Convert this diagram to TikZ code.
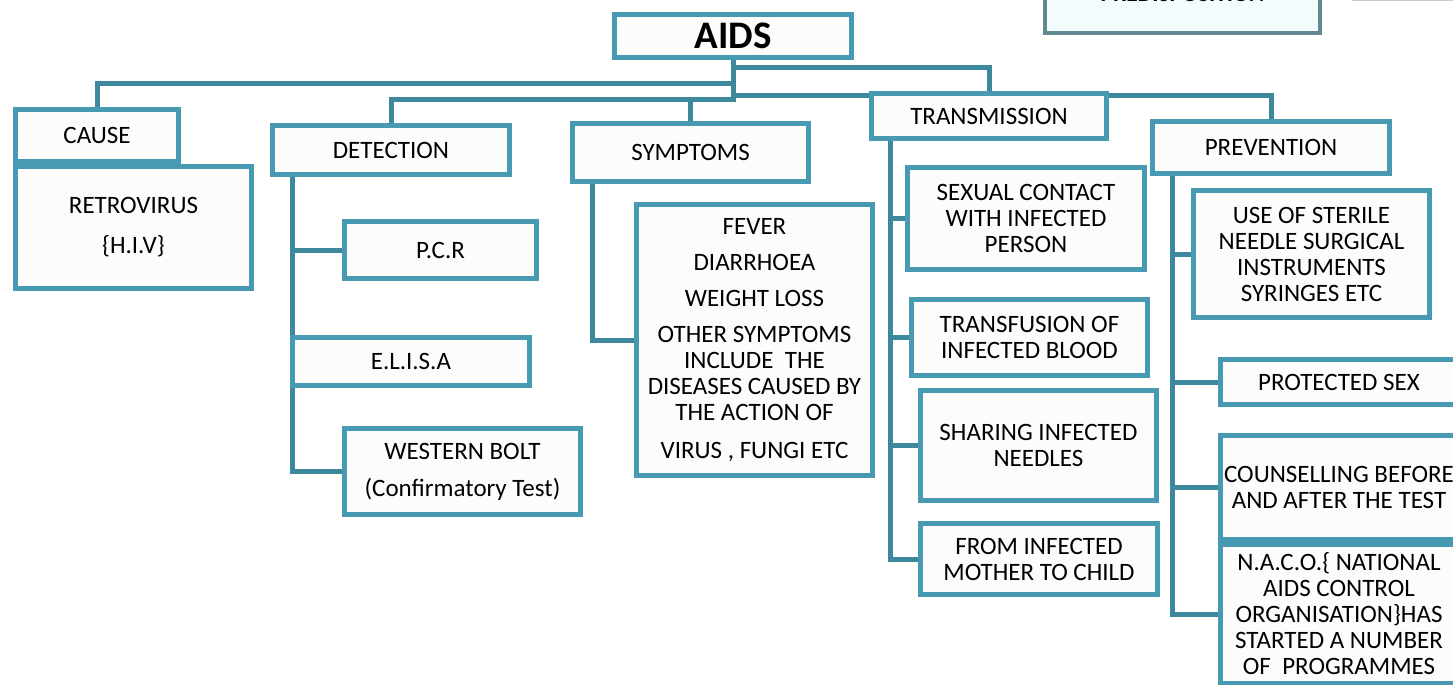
\documentclass[tikz,border=0pt]{standalone}
\usepackage{fontspec}
\setmainfont{Carlito}
\usepackage{tikz}
\definecolor{boxline}{RGB}{72,154,178}
\definecolor{connline}{RGB}{62,136,158}
\definecolor{boxfill}{RGB}{252,252,252}
\definecolor{predline}{RGB}{98,136,146}
\definecolor{predfill}{RGB}{244,251,252}
\definecolor{edgegrey}{RGB}{200,204,208}
\pgfdeclarelayer{background}
\pgfsetlayers{background,main}
\tikzset{
  box/.style={draw=boxline, line width=2.5pt, fill=boxfill, align=center, inner sep=0pt,
    font=\fontsize{12.5}{13}\selectfont},
  conn/.style={draw=connline, line width=2.5pt, line cap=rect},
}

\begin{document}
\begin{tikzpicture}[x=0.5pt,y=-0.5pt]
\useasboundingbox (0,0) rectangle (1453,685);
\clip (0,0) rectangle (1453,685);
\node[draw=predline, line width=2.2pt, fill=predfill, minimum width=137.5pt, minimum height=38.5pt,
  font=\fontsize{11.7}{13}\selectfont\bfseries, anchor=south] (predisp) at (1182.5,35) {PREDISPOSITION};
\node[draw=edgegrey, line width=1.5pt, fill=white, minimum width=60pt, minimum height=20pt,
  anchor=south west] (corner) at (1352,1) {};

\node[box, font=\fontsize{19.5}{22}\selectfont\bfseries, minimum width=118.5pt, minimum height=21.5pt] (aids) at (733,36) {AIDS};
\node[box, minimum width=118pt, minimum height=61pt] (retro) at (133.5,227.5) {RETROVIRUS\\[7pt]\{H.I.V\}};
\node[box, minimum width=81.5pt, minimum height=26pt] (cause) at (97,135.5) {CAUSE};
\node[box, minimum width=118.5pt, minimum height=24.5pt] (det) at (391,150) {DETECTION};
\node[box, minimum width=96pt, minimum height=28.5pt] (pcr) at (440.5,250) {P.C.R};
\node[box, minimum width=118.5pt, minimum height=24pt] (elisa) at (411,361.5) {E.L.I.S.A};
\node[box, minimum width=118pt, minimum height=43pt] (western) at (462.5,471.5) {WESTERN BOLT\\[5.5pt](Confirmatory Test)};
\node[box, minimum width=118pt, minimum height=29pt] (symp) at (690.5,152.5) {SYMPTOMS};
\node[box, minimum width=118pt, minimum height=135.5pt] (signs) at (754.5,340) {FEVER\\[5pt]DIARRHOEA\\[5pt]WEIGHT LOSS\\[5pt]OTHER SYMPTOMS\\INCLUDE\ \ THE\\DISEASES CAUSED BY\\THE ACTION OF\\[6pt]VIRUS , FUNGI ETC};
\node[box, minimum width=117.5pt, minimum height=22.5pt] (trans) at (989,116) {TRANSMISSION};
\node[box, minimum width=118.5pt, minimum height=51pt] (sexual) at (1026,218.5) {SEXUAL CONTACT\\WITH INFECTED\\PERSON};
\node[box, minimum width=118pt, minimum height=38pt] (transf) at (1029.5,337.5) {TRANSFUSION OF\\INFECTED BLOOD};
\node[box, minimum width=118pt, minimum height=55pt] (sharing) at (1038.5,445.5) {SHARING INFECTED\\NEEDLES};
\node[box, minimum width=118.5pt, minimum height=35.5pt] (mother) at (1039,559) {FROM INFECTED\\MOTHER TO CHILD};
\node[box, minimum width=118.5pt, minimum height=26pt] (prev) at (1271,147.5) {PREVENTION};
\node[box, minimum width=118pt, minimum height=63.5pt] (sterile) at (1311.5,254) {USE OF STERILE\\NEEDLE SURGICAL\\INSTRUMENTS\\SYRINGES ETC};
\node[box, minimum width=118.5pt, minimum height=22.5pt] (protsex) at (1339,382) {PROTECTED SEX};
\node[box, minimum width=118.5pt, minimum height=52pt] (counsel) at (1339,487.5) {COUNSELLING BEFORE\\AND AFTER THE TEST};
\node[box, minimum width=118.5pt, minimum height=69.5pt] (naco) at (1339,614) {N.A.C.O.\{ NATIONAL\\AIDS CONTROL\\ORGANISATION\}HAS\\STARTED A NUMBER\\OF\ \ PROGRAMMES};

\begin{pgfonlayer}{background}
\coordinate (lvltrans) at (0,67);
\coordinate (lvlcause) at (0,83);
\coordinate (lvlprev) at (0,95);
\coordinate (lvldet) at (0,99);
\draw[conn] (aids.south) -- (aids.south |- lvldet);
\draw[conn] (aids.south |- lvlcause) -| (cause.north);
\draw[conn] (aids.south |- lvltrans) -| (trans.north);
\draw[conn] (aids.south |- lvlprev) -| (prev.north);
\draw[conn] (aids.south |- lvldet) -| (det.north);
\draw[conn] (symp.north) -- (symp.north |- lvldet);
\draw[conn] ([xshift=11pt]det.south west) |- (pcr.west);
\draw[conn] ([xshift=11pt]det.south west) |- (western.west);
\draw[conn] ([xshift=11.25pt]symp.south west) |- (signs.west);
\foreach \n in {sexual,transf,sharing,mother}
  \draw[conn] ([xshift=10.75pt]trans.south west) |- (\n.west);
\foreach \n in {sterile,protsex,counsel,naco}
  \draw[conn] ([xshift=11.25pt]prev.south west) |- (\n.west);
\end{pgfonlayer}
\end{tikzpicture}
\end{document}
